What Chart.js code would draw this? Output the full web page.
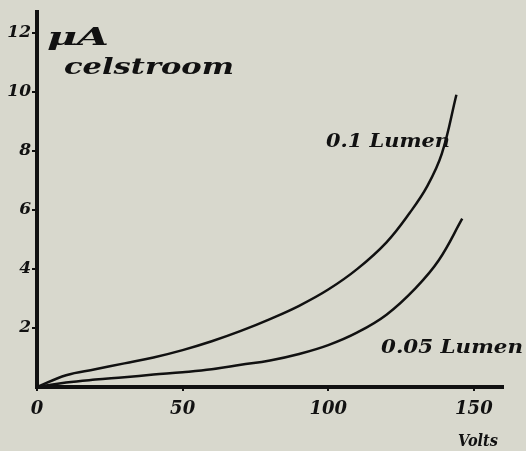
<!DOCTYPE html>
<html lang="nl">
<head>
    <meta charset="UTF-8">
    <title>Celstroom</title>
    <script src="https://cdn.jsdelivr.net/npm/chart.js"></script>
    <style>
        body { margin: 0; background: #d8d8cd; }
        canvas { display: block; }
    </style>
</head>
<body>
    <canvas id="chartCel" width="526" height="451"></canvas>

    <script>
        // volts on x, microampere on y
        const volts01 = [0, 10, 20, 30, 40, 50, 60, 70, 80, 90, 100, 110, 120, 128, 134, 139, 144];
        const lumen01 = [0, 0.4, 0.6, 0.8, 1.0, 1.25, 1.55, 1.9, 2.3, 2.75, 3.3, 4.0, 4.9, 5.9, 6.8, 7.9, 9.9];

        const volts005 = [0, 10, 20, 30, 40, 50, 60, 70, 80, 90, 100, 110, 120, 130, 138, 146];
        const lumen005 = [0, 0.15, 0.25, 0.33, 0.42, 0.5, 0.6, 0.75, 0.9, 1.12, 1.42, 1.85, 2.45, 3.35, 4.3, 5.7];

        const xTicks = [0, 50, 100, 150];
        const yTicks = [2, 4, 6, 8, 10, 12];

        const handFont = '"DejaVu Serif"';

        function pts(xs, ys) {
            return xs.map((x, i) => ({ x: x, y: ys[i] }));
        }

        // hand written labels, stretched to the width they have in the scan
        function label(ctx, txt, x, y, size, w) {
            ctx.save();
            ctx.font = 'italic bold ' + size + 'px ' + handFont;
            ctx.fillStyle = '#111';
            ctx.textBaseline = 'alphabetic';
            let m = ctx.measureText(txt).width;
            ctx.translate(x, y);
            ctx.scale(w / m, 1);
            ctx.fillText(txt, 0, 0);
            ctx.restore();
        }

        const notes = {
            id: 'notes',
            afterDraw(chart) {
                let ctx = chart.ctx;
                label(ctx, 'μA', 47, 45, 24, 62);
                label(ctx, 'celstroom', 64, 74, 22, 170);
                label(ctx, '0.1 Lumen', 326, 147, 19, 124);
                label(ctx, '0.05 Lumen', 381, 353, 19, 142);
                label(ctx, 'Volts', 458, 446, 16, 40);
            }
        };

        new Chart(document.getElementById('chartCel'), {
            type: 'line',
            data: {
                datasets: [{
                    label: '0.1 Lumen',
                    data: pts(volts01, lumen01),
                    borderColor: '#111',
                    borderWidth: 2.5,
                    pointRadius: 0,
                    tension: 0.4
                }, {
                    label: '0.05 Lumen',
                    data: pts(volts005, lumen005),
                    borderColor: '#111',
                    borderWidth: 2.5,
                    pointRadius: 0,
                    tension: 0.4
                }]
            },
            options: {
                responsive: false,
                animation: false,
                layout: { padding: { top: 12, right: 23, left: 0, bottom: 0 } },
                plugins: {
                    legend: { display: false },
                    tooltip: { enabled: false }
                },
                scales: {
                    x: {
                        type: 'linear',
                        min: 0,
                        max: 160,
                        afterFit: s => { s.height = 64; },
                        afterBuildTicks: s => { s.ticks = xTicks.map(v => ({ value: v })); },
                        grid: { display: true, drawOnChartArea: false, tickLength: 4, color: '#111', lineWidth: 2 },
                        border: { display: true, color: '#111', width: 4 },
                        ticks: {
                            color: '#111',
                            padding: 8,
                            font: { family: handFont, size: 18, style: 'italic', weight: 'bold' }
                        }
                    },
                    y: {
                        min: 0,
                        max: 12.7,
                        afterFit: s => { s.width = 37; },
                        afterBuildTicks: s => { s.ticks = yTicks.map(v => ({ value: v })); },
                        grid: { display: true, drawOnChartArea: false, tickLength: 5, color: '#111', lineWidth: 2 },
                        border: { display: true, color: '#111', width: 4 },
                        ticks: {
                            color: '#111',
                            padding: 1,
                            font: { family: handFont, size: 17, style: 'italic', weight: 'bold' }
                        }
                    }
                }
            },
            plugins: [notes]
        });
    </script>
</body>
</html>
